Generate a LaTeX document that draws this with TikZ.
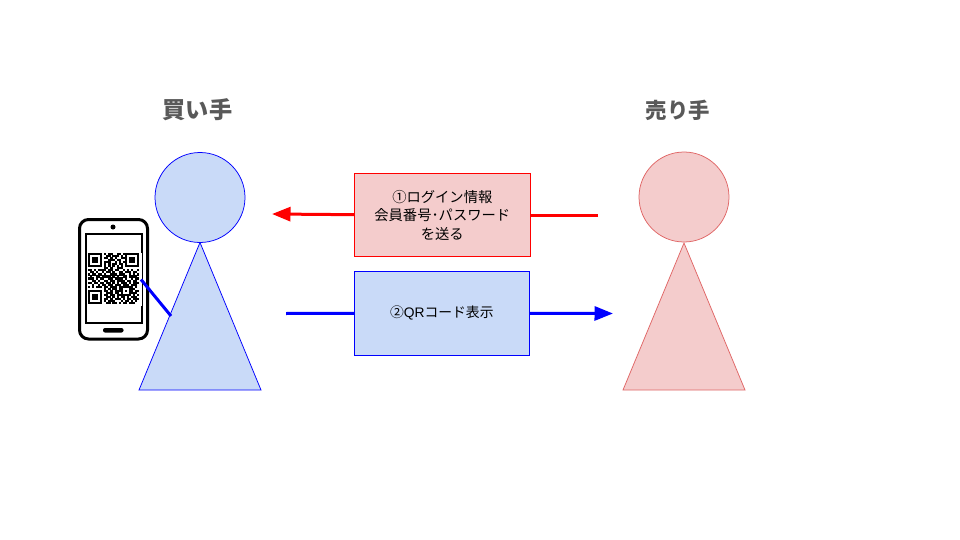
\documentclass[tikz,border=0pt]{standalone}
\usepackage{fontspec}
\usetikzlibrary{arrows.meta}
\setmainfont{Noto Sans CJK JP}
\newfontfamily\latinfont{Liberation Sans}
\definecolor{bluefill}{HTML}{C9DAF8}
\definecolor{redfill}{HTML}{F4CCCC}
\definecolor{softred}{HTML}{E06666}
\definecolor{headgrey}{HTML}{595959}
\newcount\qrx
\def\qrrow#1{\ifx#1\relax\else
  \if#11\fill[black] (88+\the\qrx*2.04,\qry) rectangle ++(2.1,2.1);\fi
  \advance\qrx by 1
  \expandafter\qrrow\fi}
\tikzset{
  every node/.style={inner sep=0pt,outer sep=0pt},
  headlabel/.style={font=\fontsize{23.2}{27}\selectfont\bfseries,text=headgrey,anchor=center},
  sellerlabelstyle/.style={font=\fontsize{21.4}{27}\selectfont\bfseries,text=headgrey,anchor=center},
  bluehead/.style={circle,draw=blue,fill=bluefill,line width=.75pt,minimum size=90pt},
  redhead/.style={circle,draw=softred,fill=redfill,line width=.75pt,minimum size=90pt},
  bluebody/.style={draw=blue,fill=bluefill,line width=.75pt,line join=miter},
  redbody/.style={draw=softred,fill=redfill,line width=.75pt,line join=miter},
  msgred/.style={draw=red,fill=redfill,line width=1pt,align=center,font=\fontsize{14.3}{18.5}\selectfont},
  msgblue/.style={draw=blue,fill=bluefill,line width=1pt,align=center,font=\fontsize{13.8}{18.5}\selectfont},
  flowred/.style={draw=red,line width=3pt},
  flowblue/.style={draw=blue,line width=3pt},
  tip/.style={-{Triangle[length=18.5pt,width=14pt]}},
}
\begin{document}
\begin{tikzpicture}[x=1pt,y=-1pt]
\useasboundingbox (0,0) rectangle (960,540);
\fill[white] (0,0) rectangle (960,540);
\node[headlabel] (buyerlabel) at (197.5,110) {買い手};
\node[sellerlabelstyle] (sellerlabel) at (677.7,110) {売り手};
% buyer
\draw[bluebody] (200,242.5) -- (261,390) -- (139,390) -- cycle;
\node[bluehead] (buyerhead) at (200,197.5) {};
% seller
\draw[redbody] (684,243) -- (745,390) -- (623,390) -- cycle;
\node[redhead] (sellerhead) at (684,197) {};
% messages
\node[msgred,minimum width=176pt,minimum height=83pt] (login) at (442.3,215) {①ログイン情報\\会員番号･パスワード\\を送る};
\node[msgblue,minimum width=175pt,minimum height=83.5pt] (qrmsg) at (441.8,313.3) {②{\latinfont QR}コード表示};
\coordinate (redstart) at (598,215);
\coordinate (redend) at (272,214);
\coordinate (bluestart) at (286,313.5);
\coordinate (blueend) at (613,313.5);
\coordinate (loginw) at (login.west|-0,214.7);
\coordinate (logine) at (login.east|-0,215);
\draw[flowred] (redstart) -- (logine);
\draw[flowred,tip] (loginw) -- (redend);
\draw[flowblue] (bluestart) -- (qrmsg.west);
\draw[flowblue,tip] (qrmsg.east) -- (blueend);
% phone
\draw[black,line width=3pt,rounded corners=9pt,fill=white] (79.5,219.5) rectangle (147.5,339);
\draw[black,line width=2pt] (85.5,233.5) rectangle (141.5,322.5);
\fill[black] (113,227) circle (2.5);
\fill[black,rounded corners=2pt] (103,328) rectangle (123.5,332.5);
\fill[white] (86.5,252.5) rectangle (141.5,306);
\foreach \rowbits [count=\rownum from 0] in {
1111111010110011011111111,
1000001001101110101000001,
1011101011010100111011101,
1011101000111011001011101,
1011101011100101011011101,
1000001010101101101000001,
1111111010101010101111111,
0000000011010011100000000,
1101011110110110010101001,
0110100101101001101110110,
1011011010011101110010101,
0100110111101010011011110,
1110101100110111101001011,
0011010011011011110110110,
1101101101101010111010111,
0010010110110111011101110,
1010111011011101111111010,
0000000010101101100011100,
1111111011010111101011011,
1000001001110110100011110,
1011101011011011111110101,
1011101001101010110101110,
1011101011010111010110111,
1000001010111000101101010,
1111111001101101011011100}{
  \edef\qry{\the\numexpr 253\relax+\rownum*2.04}
  \qrx=0
  \expandafter\qrrow\rowbits\relax
}
\coordinate (phonelink) at (141,279.5);
\coordinate (bodylink) at (171,316);
\draw[flowblue] (phonelink) -- (bodylink);
\end{tikzpicture}
\end{document}
